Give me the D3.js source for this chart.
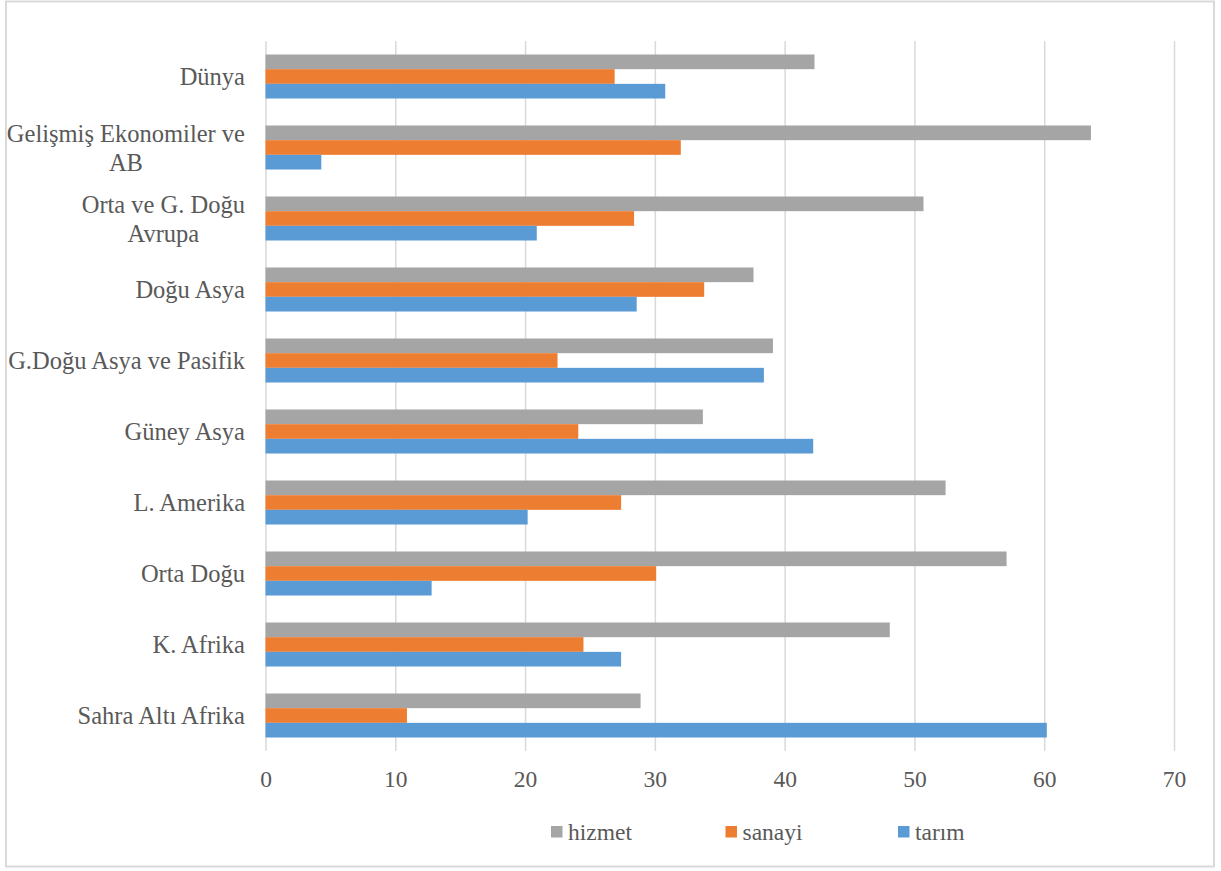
<!DOCTYPE html>
<html>
<head>
<meta charset="utf-8">
<script src="https://d3js.org/d3.v7.min.js"></script>
<style>
body { margin: 0; background: #fff; }
svg text { font-family: "Liberation Serif", "Times New Roman", serif; fill: #595959; }
.grid line { stroke: #d9d9d9; stroke-width: 1.5; }
.grid path { display: none; }
</style>
</head>
<body>
<script type="text/javascript">

/* chart values (top row first) */
var categories = ["Dünya", "Gelişmiş Ekonomiler ve\nAB", "Orta ve G. Doğu\nAvrupa", "Doğu Asya",
  "G.Doğu Asya ve Pasifik", "Güney Asya", "L. Amerika", "Orta Doğu", "K. Afrika", "Sahra Altı Afrika"];
var seriesNames = ["hizmet", "sanayi", "tarım"];
var hizmet = [42.3, 63.6, 50.7, 37.6, 39.1, 33.7, 52.4, 57.1, 48.1, 28.9];
var sanayi = [26.9, 32.0, 28.4, 33.8, 22.5, 24.1, 27.4, 30.1, 24.5, 10.9];
var tarim  = [30.8, 4.3, 20.9, 28.6, 38.4, 42.2, 20.2, 12.8, 27.4, 60.2];
var xTicks = [0, 10, 20, 30, 40, 50, 60, 70];

var colors = {"hizmet": "#a5a5a5", "sanayi": "#ed7d31", "tarım": "#5b9bd5"};
var valuesBySeries = {"hizmet": hizmet, "sanayi": sanayi, "tarım": tarim};

var W = 1221, H = 871;
var plotL = 265.5, plotR = 1174, plotT = 41, plotB = 751;

var svg = d3.select("body").append("svg")
  .attr("width", W)
  .attr("height", H);

// outer frame
svg.append("rect")
  .attr("x", 6).attr("y", 1.5)
  .attr("width", 1208).attr("height", 865)
  .attr("fill", "#fff")
  .attr("stroke", "#d9d9d9")
  .attr("stroke-width", 2);

var x = d3.scaleLinear().domain([0, 70]).range([plotL, plotR]);

var y = d3.scaleBand().domain(categories).range([plotT, plotB])
  .paddingInner(0.38).paddingOuter(0.19);

var ySub = d3.scaleBand().domain(seriesNames).range([0, y.bandwidth()]);

/* vertical gridlines */
svg.append("g")
  .attr("class", "grid")
  .attr("transform", "translate(0," + plotB + ")")
  .call(d3.axisBottom(x).tickValues(xTicks).tickSize(-(plotB - plotT)).tickFormat(""));

/* bars */
var rows = categories.map(function(c, i) {
  return { cat: c, vals: seriesNames.map(function(s) { return { s: s, v: valuesBySeries[s][i] }; }) };
});

var groups = svg.selectAll(".row").data(rows).enter().append("g")
  .attr("class", "row")
  .attr("transform", function(d) { return "translate(0," + y(d.cat) + ")"; });

groups.selectAll("rect").data(function(d) { return d.vals; }).enter().append("rect")
  .attr("x", x(0))
  .attr("y", function(d) { return ySub(d.s); })
  .attr("width", function(d) { return x(d.v) - x(0); })
  .attr("height", ySub.bandwidth())
  .attr("fill", function(d) { return colors[d.s]; });

/* x tick labels */
var xAxis = svg.append("g")
  .attr("transform", "translate(0,779)")
  .call(d3.axisBottom(x).tickValues(xTicks).tickSize(0).tickPadding(0));
xAxis.select(".domain").remove();
xAxis.selectAll("text")
  .attr("dy", "0.35em")
  .style("font-size", "23.5px")
  .attr("fill", "#595959")
  .style("font-family", "\"Liberation Serif\", \"Times New Roman\", serif");

/* category labels, wrapped lines centred in a right-aligned block */
var lineH = 29;
var labels = svg.selectAll(".cat").data(categories).enter().append("text")
  .attr("class", "cat")
  .style("font-size", "24.5px")
  .attr("text-anchor", "middle");

labels.each(function(c) {
  var t = d3.select(this);
  var lines = c.split("\n");
  var cy = y(c) + y.bandwidth() / 2;
  lines.forEach(function(l, k) {
    t.append("tspan")
      .attr("y", cy + (k - (lines.length - 1) / 2) * lineH)
      .attr("dy", "0.35em")
      .text(l);
  });
  var w = 0;
  t.selectAll("tspan").each(function() { w = Math.max(w, this.getComputedTextLength()); });
  t.selectAll("tspan").attr("x", 245 - w / 2);
});

/* legend */
var legendX = [551, 725.5, 898];
var legend = svg.selectAll(".leg").data(seriesNames).enter().append("g")
  .attr("class", "leg")
  .attr("transform", function(d, i) { return "translate(" + legendX[i] + ",826)"; });

legend.append("rect")
  .attr("width", 11.5).attr("height", 11.5)
  .attr("fill", function(d) { return colors[d]; });

legend.append("text")
  .attr("x", 17)
  .attr("y", 6)
  .attr("dy", "0.35em")
  .style("font-size", "23.5px")
  .text(function(d) { return d; });

</script>
</body>
</html>
